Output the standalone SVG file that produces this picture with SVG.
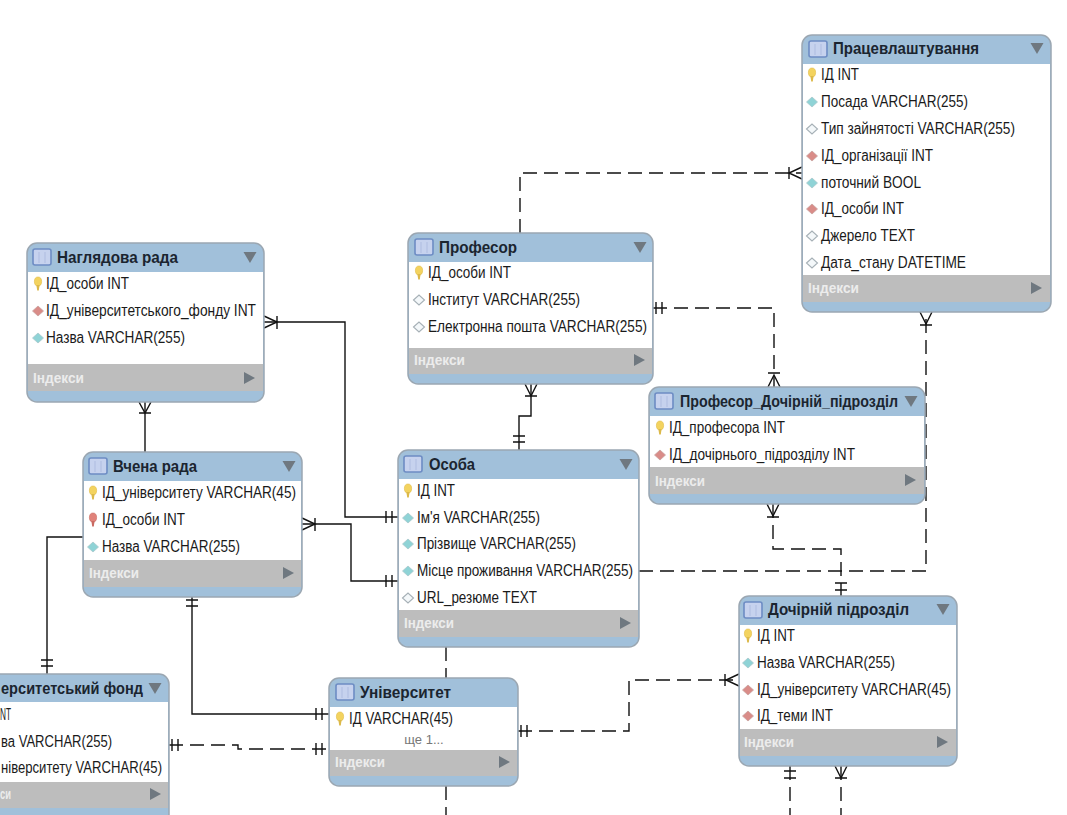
<svg xmlns="http://www.w3.org/2000/svg" width="1067" height="815" viewBox="0 0 1067 815">
<style>
text{font-family:"Liberation Sans",Arial,sans-serif}
.card{fill:#a1c0da;stroke:#9ba7b2;stroke-width:1.5}
.body{fill:#fff}
.idx{fill:#bdbdbd}
.t{font-size:17px;font-weight:bold;fill:#1b2530}
.r{font-size:16px;fill:#1a1a1a}
.i{font-size:14px;font-weight:bold;fill:#ececec}
.more{font-size:13px;fill:#777;text-anchor:middle}
.c{fill:none;stroke:#111;stroke-width:1.4}
.d{stroke-dasharray:14 7}
.tri{fill:#6f7880}
</style>
<defs>
<g id="tbl"><rect x="-9" y="-8" width="18" height="16" rx="2" fill="#c6d2ee" stroke="#6d8cc4" stroke-width="1.6"/><path d="M-3 -5V6M3 -5V6" stroke="#aebce0" stroke-width="1"/></g>
<g id="key"><ellipse cx="0" cy="-2.5" rx="3.6" ry="4.5" fill="#f3d35f" stroke="#e0bb45" stroke-width=".6"/><path d="M-1.6 1H1.6L.8 6.5H-.8Z" fill="#dcb94a"/></g>
<g id="keyr"><ellipse cx="0" cy="-2.5" rx="3.6" ry="4.5" fill="#e0827a" stroke="#c96a62" stroke-width=".6"/><path d="M-1.6 1H1.6L.8 6.5H-.8Z" fill="#c96a62"/></g>
<path id="dt" d="M-5.5 0L0 -5L5.5 0L0 5Z" fill="#8fd3d6" stroke="#a9c8cc" stroke-width=".8"/>
<path id="dr" d="M-5.5 0L0 -5L5.5 0L0 5Z" fill="#d98c88" stroke="#c9a2a0" stroke-width=".8"/>
<path id="dw" d="M-5.5 0L0 -5L5.5 0L0 5Z" fill="#f4f8fa" stroke="#a6b0b6" stroke-width="1.1"/>
<path id="down" d="M-6.5 -5H6.5L0 6Z" class="tri"/>
<path id="right" d="M-5 -6V6L6 0Z" class="tri"/>
</defs>

<g id="connectors">
<path class="c" d="M264 322H345V517H398"/>
<path class="c" d="M264 316L277 322L264 328M277 316V329M386 511V523M392 511V523"/>
<path class="c" d="M302 524H351V581H398"/>
<path class="c" d="M302 518L315 524L302 530M315 518V531M386 575V587M392 575V587"/>
<path class="c" d="M145 402V452"/>
<path class="c" d="M139 402L145 413L151 402M139 413H151"/>
<path class="c" d="M83 537H47V674"/>
<path class="c" d="M41 660H53M41 666H53"/>
<path class="c" d="M192 597V714H329"/>
<path class="c" d="M186 600H198M186 606H198M316 708V720M322 708V720"/>
<path class="c" d="M519 450V416H531V384"/>
<path class="c" d="M525 384L531 396L537 384M525 396H537M513 436H525M513 442H525"/>
<path class="c d" d="M520 233V173H802"/>
<path class="c" d="M802 167L789 173L802 179M789 167V179"/>
<path class="c d" d="M653 308H774V387"/>
<path class="c" d="M656 302V314M662 302V314M768 373H780M768 387L774 375L780 387"/>
<path class="c d" d="M639 571H926V312"/>
<path class="c" d="M920 312L926 324L932 312M920 325H932"/>
<path class="c d" d="M773 504V549H841V596"/>
<path class="c" d="M767 504L773 516L779 504M767 517H779M835 583H847M835 590H847"/>
<path class="c d" d="M518 731H629V680H739"/>
<path class="c" d="M521 725V737M527 725V737M739 674L726 680L739 686M725 674V686"/>
<path class="c d" d="M169 745H238V749H329"/>
<path class="c" d="M172 739V751M178 739V751M316 743V755M322 743V755"/>
<path class="c d" d="M446 647V678"/>
<path class="c d" d="M446 786V815"/>
<path class="c d" d="M790 766V815"/>
<path class="c" d="M784 771H796M784 778H796"/>
<path class="c d" d="M841 766V815"/>
<path class="c" d="M835 766L841 778L847 766M835 778H847"/>
</g>

<g id="pratsevlashtuvannia">
<rect class="card" x="802" y="35" width="249" height="277" rx="10"/>
<rect class="body" x="803" y="64" width="247" height="211"/>
<rect class="idx" x="803" y="275" width="247" height="27"/>
<use href="#tbl" x="818" y="49"/>
<text class="t" x="833" y="54" textLength="146" lengthAdjust="spacingAndGlyphs">Працевлаштування</text>
<use href="#down" x="1037" y="48"/>
<use href="#key" x="812" y="75"/><text class="r" x="821" y="80" textLength="38" lengthAdjust="spacingAndGlyphs">ІД INT</text>
<use href="#dt" x="812" y="102"/><text class="r" x="821" y="107" textLength="147" lengthAdjust="spacingAndGlyphs">Посада VARCHAR(255)</text>
<use href="#dw" x="812" y="129"/><text class="r" x="821" y="134" textLength="194" lengthAdjust="spacingAndGlyphs">Тип зайнятості VARCHAR(255)</text>
<use href="#dr" x="812" y="156"/><text class="r" x="821" y="161" textLength="112" lengthAdjust="spacingAndGlyphs">ІД_організації INT</text>
<use href="#dt" x="812" y="183"/><text class="r" x="821" y="188" textLength="100" lengthAdjust="spacingAndGlyphs">поточний BOOL</text>
<use href="#dr" x="812" y="209"/><text class="r" x="821" y="214" textLength="83" lengthAdjust="spacingAndGlyphs">ІД_особи INT</text>
<use href="#dw" x="812" y="236"/><text class="r" x="821" y="241" textLength="94" lengthAdjust="spacingAndGlyphs">Джерело TEXT</text>
<use href="#dw" x="812" y="263"/><text class="r" x="821" y="268" textLength="145" lengthAdjust="spacingAndGlyphs">Дата_стану DATETIME</text>
<text class="i" x="808" y="293" textLength="51" lengthAdjust="spacingAndGlyphs">Індекси</text>
<use href="#right" x="1036" y="288"/>
</g>

<g id="nahliadova-rada">
<rect class="card" x="27" y="243" width="237" height="159" rx="10"/>
<rect class="body" x="28" y="272" width="235" height="92"/>
<rect class="idx" x="28" y="364" width="235" height="27"/>
<use href="#tbl" x="42" y="257"/>
<text class="t" x="57" y="263" textLength="121" lengthAdjust="spacingAndGlyphs">Наглядова рада</text>
<use href="#down" x="250" y="257"/>
<use href="#key" x="38" y="284"/><text class="r" x="46" y="289" textLength="83" lengthAdjust="spacingAndGlyphs">ІД_особи INT</text>
<use href="#dr" x="38" y="311"/><text class="r" x="46" y="316" textLength="210" lengthAdjust="spacingAndGlyphs">ІД_університетського_фонду INT</text>
<use href="#dt" x="38" y="338"/><text class="r" x="46" y="343" textLength="139" lengthAdjust="spacingAndGlyphs">Назва VARCHAR(255)</text>
<text class="i" x="33" y="383" textLength="51" lengthAdjust="spacingAndGlyphs">Індекси</text>
<use href="#right" x="249" y="378"/>
</g>

<g id="profesor">
<rect class="card" x="408" y="233" width="245" height="151" rx="10"/>
<rect class="body" x="409" y="262" width="243" height="86"/>
<rect class="idx" x="409" y="348" width="243" height="26"/>
<use href="#tbl" x="424" y="247"/>
<text class="t" x="439" y="253" textLength="78" lengthAdjust="spacingAndGlyphs">Професор</text>
<use href="#down" x="640" y="247"/>
<use href="#key" x="419" y="273"/><text class="r" x="428" y="278" textLength="83" lengthAdjust="spacingAndGlyphs">ІД_особи INT</text>
<use href="#dw" x="419" y="300"/><text class="r" x="428" y="305" textLength="152" lengthAdjust="spacingAndGlyphs">Інститут VARCHAR(255)</text>
<use href="#dw" x="419" y="327"/><text class="r" x="428" y="332" textLength="219" lengthAdjust="spacingAndGlyphs">Електронна пошта VARCHAR(255)</text>
<text class="i" x="414" y="365" textLength="51" lengthAdjust="spacingAndGlyphs">Індекси</text>
<use href="#right" x="639" y="360"/>
</g>

<g id="vchena-rada">
<rect class="card" x="83" y="452" width="219" height="145" rx="10"/>
<rect class="body" x="84" y="481" width="217" height="79"/>
<rect class="idx" x="84" y="560" width="217" height="27"/>
<use href="#tbl" x="98" y="466"/>
<text class="t" x="113" y="472" textLength="84" lengthAdjust="spacingAndGlyphs">Вчена рада</text>
<use href="#down" x="289" y="466"/>
<use href="#key" x="93" y="493"/><text class="r" x="102" y="498" textLength="194" lengthAdjust="spacingAndGlyphs">ІД_університету VARCHAR(45)</text>
<use href="#keyr" x="93" y="520"/><text class="r" x="102" y="525" textLength="83" lengthAdjust="spacingAndGlyphs">ІД_особи INT</text>
<use href="#dt" x="93" y="547"/><text class="r" x="102" y="552" textLength="138" lengthAdjust="spacingAndGlyphs">Назва VARCHAR(255)</text>
<text class="i" x="89" y="578" textLength="50" lengthAdjust="spacingAndGlyphs">Індекси</text>
<use href="#right" x="288" y="573"/>
</g>

<g id="osoba">
<rect class="card" x="398" y="450" width="241" height="197" rx="10"/>
<rect class="body" x="399" y="479" width="239" height="131"/>
<rect class="idx" x="399" y="610" width="239" height="27"/>
<use href="#tbl" x="413" y="464"/>
<text class="t" x="429" y="470" textLength="46" lengthAdjust="spacingAndGlyphs">Особа</text>
<use href="#down" x="626" y="464"/>
<use href="#key" x="408" y="491"/><text class="r" x="417" y="496" textLength="38" lengthAdjust="spacingAndGlyphs">ІД INT</text>
<use href="#dt" x="408" y="518"/><text class="r" x="417" y="523" textLength="123" lengthAdjust="spacingAndGlyphs">Ім'я VARCHAR(255)</text>
<use href="#dt" x="408" y="544"/><text class="r" x="417" y="549" textLength="159" lengthAdjust="spacingAndGlyphs">Прізвище VARCHAR(255)</text>
<use href="#dt" x="408" y="571"/><text class="r" x="417" y="576" textLength="216" lengthAdjust="spacingAndGlyphs">Місце проживання VARCHAR(255)</text>
<use href="#dw" x="408" y="598"/><text class="r" x="417" y="603" textLength="120" lengthAdjust="spacingAndGlyphs">URL_резюме TEXT</text>
<text class="i" x="404" y="628" textLength="50" lengthAdjust="spacingAndGlyphs">Індекси</text>
<use href="#right" x="625" y="623"/>
</g>

<g id="profesor-dochirnii">
<rect class="card" x="649" y="387" width="276" height="117" rx="10"/>
<rect class="body" x="650" y="416" width="274" height="51"/>
<rect class="idx" x="650" y="467" width="274" height="27"/>
<use href="#tbl" x="664" y="401"/>
<text class="t" x="680" y="407" textLength="218" lengthAdjust="spacingAndGlyphs">Професор_Дочірній_підрозділ</text>
<use href="#down" x="911" y="401"/>
<use href="#key" x="660" y="428"/><text class="r" x="669" y="433" textLength="116" lengthAdjust="spacingAndGlyphs">ІД_професора INT</text>
<use href="#dr" x="660" y="455"/><text class="r" x="669" y="460" textLength="186" lengthAdjust="spacingAndGlyphs">ІД_дочірнього_підрозділу INT</text>
<text class="i" x="655" y="486" textLength="50" lengthAdjust="spacingAndGlyphs">Індекси</text>
<use href="#right" x="910" y="480"/>
</g>

<g id="dochirnii">
<rect class="card" x="739" y="596" width="218" height="170" rx="10"/>
<rect class="body" x="740" y="625" width="216" height="104"/>
<rect class="idx" x="740" y="729" width="216" height="27"/>
<use href="#tbl" x="753" y="610"/>
<text class="t" x="768" y="615" textLength="141" lengthAdjust="spacingAndGlyphs">Дочірній підрозділ</text>
<use href="#down" x="943" y="609"/>
<use href="#key" x="748" y="636"/><text class="r" x="757" y="641" textLength="38" lengthAdjust="spacingAndGlyphs">ІД INT</text>
<use href="#dt" x="748" y="663"/><text class="r" x="757" y="668" textLength="138" lengthAdjust="spacingAndGlyphs">Назва VARCHAR(255)</text>
<use href="#dr" x="748" y="690"/><text class="r" x="757" y="695" textLength="194" lengthAdjust="spacingAndGlyphs">ІД_університету VARCHAR(45)</text>
<use href="#dr" x="748" y="716"/><text class="r" x="757" y="721" textLength="76" lengthAdjust="spacingAndGlyphs">ІД_теми INT</text>
<text class="i" x="744" y="747" textLength="50" lengthAdjust="spacingAndGlyphs">Індекси</text>
<use href="#right" x="942" y="742"/>
</g>

<g id="universytet">
<rect class="card" x="329" y="678" width="189" height="108" rx="10"/>
<rect class="body" x="330" y="707" width="187" height="43"/>
<rect class="idx" x="330" y="750" width="187" height="26"/>
<use href="#tbl" x="345" y="692"/>
<text class="t" x="360" y="698" textLength="91" lengthAdjust="spacingAndGlyphs">Університет</text>
<use href="#key" x="340" y="719"/><text class="r" x="349" y="724" textLength="104" lengthAdjust="spacingAndGlyphs">ІД VARCHAR(45)</text>
<text class="more" x="424" y="744">ще 1...</text>
<text class="i" x="335" y="767" textLength="50" lengthAdjust="spacingAndGlyphs">Індекси</text>
<use href="#right" x="504" y="762"/>
</g>

<g id="universytetskyi-fond">
<rect class="card" x="-60" y="674" width="229" height="160" rx="10"/>
<rect class="body" x="-59" y="702" width="227" height="80"/>
<rect class="idx" x="-59" y="782" width="227" height="26"/>
<text class="t" x="1" y="694" textLength="142" lengthAdjust="spacingAndGlyphs">ерситетський фонд</text>
<use href="#down" x="155" y="688"/>
<text class="r" x="0" y="720" textLength="11" lengthAdjust="spacingAndGlyphs">NT</text>
<text class="r" x="1" y="747" textLength="111" lengthAdjust="spacingAndGlyphs">ва VARCHAR(255)</text>
<text class="r" x="1" y="773" textLength="161" lengthAdjust="spacingAndGlyphs">ніверситету VARCHAR(45)</text>
<text class="i" x="0" y="799" textLength="11" lengthAdjust="spacingAndGlyphs">си</text>
<use href="#right" x="155" y="794"/>
</g>
</svg>
